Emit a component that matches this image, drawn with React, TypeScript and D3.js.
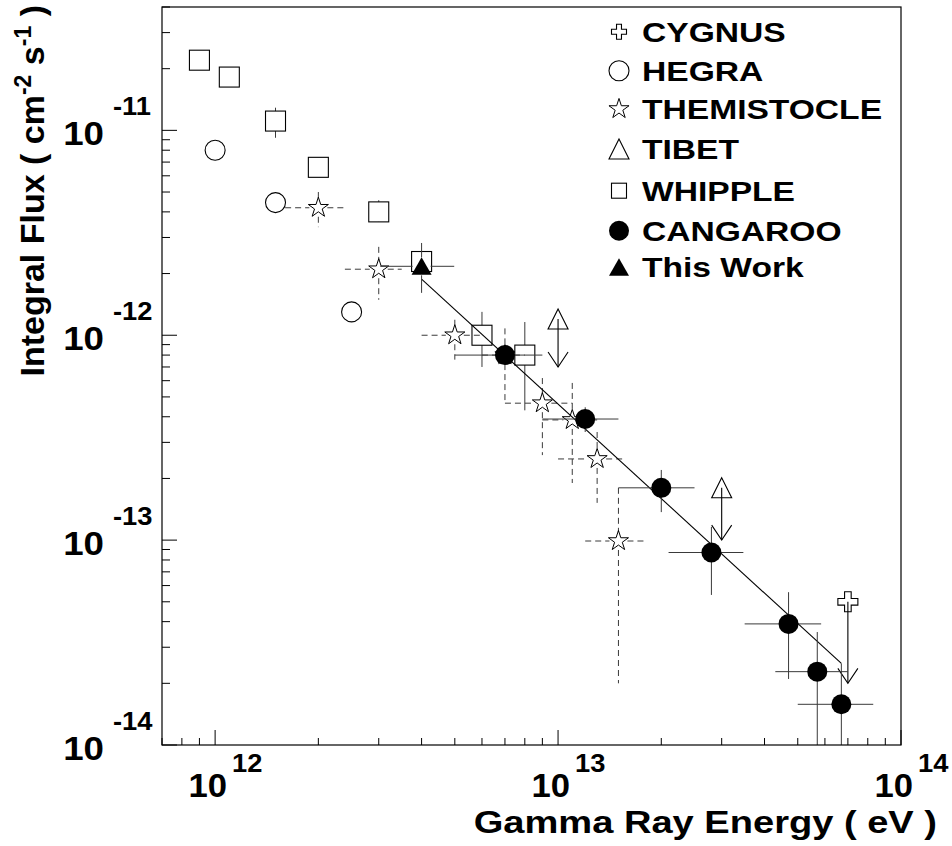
import React from "react";
import * as d3 from "d3";

// data (energy in eV, integral flux in cm^-2 s^-1)
const whippleE = [9e11, 1.1e12, 1.5e12, 2e12, 3e12, 4e12, 6e12, 8e12];
const whippleF = [2.2e-11, 1.82e-11, 1.11e-11, 6.6e-12, 4.0e-12, 2.29e-12, 1.0e-12, 8.0e-13];
const whippleFLo = [2.1e-11, 1.75e-11, 9.2e-12, 6.3e-12, 3.57e-12, 2.2e-12, 7.0e-13, 4.3e-13];
const whippleFHi = [2.3e-11, 1.9e-11, 1.29e-11, 6.9e-12, 4.56e-12, 2.4e-12, 1.3e-12, 1.16e-12];

const hegraE = [1e12, 1.5e12, 2.5e12];
const hegraF = [8.0e-12, 4.44e-12, 1.3e-12];

const themE = [2e12, 3e12, 5e12, 7e12, 9e12, 1.1e13, 1.3e13, 1.5e13];
const themF = [4.19e-12, 2.1e-12, 1.0e-12, 8.0e-13, 4.66e-13, 3.86e-13, 2.49e-13, 9.9e-14];
const themELo = [1.6e12, 2.39e12, 4e12, 6e12, 7e12, 9e12, 1.0e13, 1.2e13];
const themEHi = [2.39e12, 3.5e12, 6e12, 8e12, 1.1e13, 1.3e13, 1.54e13, 1.79e13];
const themFLo = [3.37e-12, 1.49e-12, 7.6e-13, 4.67e-13, 2.6e-13, 1.9e-13, 1.52e-13, 2.0e-14];
const themFHi = [5.0e-12, 2.7e-12, 1.19e-12, 1.08e-12, 6.18e-13, 5.85e-13, 3.37e-13, 1.8e-13];

const cangE = [7e12, 1.2e13, 2.0e13, 2.8e13, 4.7e13, 5.7e13, 6.7e13];
const cangF = [8.0e-13, 3.9e-13, 1.8e-13, 8.7e-14, 3.9e-14, 2.28e-14, 1.58e-14];
const cangELo = [5e12, 9e12, 1.5e13, 2.1e13, 3.5e13, 4.3e13, 5e13];
const cangEHi = [9e12, 1.5e13, 2.5e13, 3.47e13, 5.85e13, 7e13, 8.3e13];
const cangFLo = [7.3e-13, 3.37e-13, 1.37e-13, 5.4e-14, 2.1e-14, 5e-15, 5e-15];
const cangFHi = [8.8e-13, 4.45e-13, 2.2e-13, 1.16e-13, 5.57e-14, 3.56e-14, 2.5e-14];

const tibetE = [1e13, 3e13];
const tibetF = [1.2e-12, 1.8e-13];
const tibetTip = [7.0e-13, 1.0e-13];

const cygE = [7e13];
const cygF = [5e-14];
const cygTip = [2e-14];

const thisE = [4e12];
const thisF = [2.17e-12];
const thisELo = [3.03e12];
const thisEHi = [4.98e12];
const thisFLo = [1.61e-12];
const thisFHi = [2.82e-12];

const fitE = [4e12, 6.7e13];
const fitF = [1.88e-12, 2.5e-14];

const legendLabels = ["CYGNUS", "HEGRA", "THEMISTOCLE", "TIBET", "WHIPPLE", "CANGAROO", "This Work"];
const legendKinds = ["cross", "circle", "star", "triangle", "square", "dot", "filledTriangle"];

const xExponents = [12, 13, 14];
const yExponents = [-11, -12, -13, -14];

const W = 952;
const H = 846;
const font = "'Liberation Sans', Arial, Helvetica, sans-serif";

const x = d3.scaleLog().domain([7e11, 1e14]).range([162, 901]);
const y = d3.scaleLog().domain([1e-14, 4e-11]).range([745, 7]);

const starPath = d3.symbol(d3.symbolStar, 125)();

const crossPath = (s: number, a: number) =>
  `M${-a},${-s}H${a}V${-a}H${s}V${a}H${a}V${s}H${-a}V${a}H${-s}V${-a}H${-a}Z`;

function Marker({ kind, cx, cy, small }: { kind: string; cx: number; cy: number; small?: boolean }) {
  const t = `translate(${cx},${cy})`;
  if (kind === "square") {
    const h = small ? 7.5 : 10;
    return <rect x={cx - h} y={cy - h} width={2 * h} height={2 * h} fill="none" stroke="#000" strokeWidth={1.1} />;
  }
  if (kind === "circle") return <circle cx={cx} cy={cy} r={10} fill="none" stroke="#000" strokeWidth={1.1} />;
  if (kind === "dot") return <circle cx={cx} cy={cy} r={10} fill="#000" />;
  if (kind === "star") return <path d={starPath} transform={t} fill="none" stroke="#000" strokeWidth={1} />;
  if (kind === "triangle")
    return <path d="M0,-10L10,10L-10,10Z" transform={t} fill="none" stroke="#000" strokeWidth={1.1} />;
  if (kind === "filledTriangle")
    return <path d="M0,-9L10,8.5L-10,8.5Z" transform={t} fill="#000" />;
  if (kind === "cross") {
    const s = small ? 7.5 : 10;
    return <path d={crossPath(s, s * 0.33)} transform={t} fill="none" stroke="#000" strokeWidth={1.1} />;
  }
  return null;
}

// error bars drawn outside the marker, like ROOT does
function Bars({ cx, cy, xl, xh, yh, yl, gap }: any) {
  const segs: number[][] = [];
  if (xl !== undefined && xl < cx - gap) segs.push([xl, cy, cx - gap, cy]);
  if (xh !== undefined && xh > cx + gap) segs.push([cx + gap, cy, xh, cy]);
  if (yh !== undefined && yh < cy - gap) segs.push([cx, yh, cx, cy - gap]);
  if (yl !== undefined && yl > cy + gap) segs.push([cx, cy + gap, cx, yl]);
  return (
    <>
      {segs.map((s, i) => (
        <line key={i} x1={s[0]} y1={s[1]} x2={s[2]} y2={s[3]} />
      ))}
    </>
  );
}

function Arrow({ cx, y0, y1 }: { cx: number; y0: number; y1: number }) {
  return (
    <g stroke="#000" strokeWidth={1.1} fill="none">
      <line x1={cx} x2={cx} y1={y0} y2={y1} />
      <path d={`M${cx - 10},${y1 - 15}L${cx},${y1}L${cx + 10},${y1 - 15}`} />
    </g>
  );
}

function SText({ tx, ty, sx = 1, anchor = "start", size, children }: any) {
  return (
    <text
      transform={`translate(${tx},${ty}) scale(${sx},1)`}
      textAnchor={anchor}
      fontSize={size}
      fontFamily={font}
      fontWeight="bold"
      fill="#000"
    >
      {children}
    </text>
  );
}

export default function App() {
  const [x0, x1] = x.range();
  const [y0, y1] = y.range();
  const minorX = x.ticks().filter((v) => Math.abs(Math.log10(v) - Math.round(Math.log10(v))) > 1e-6);
  const minorY = y.ticks().filter((v) => Math.abs(Math.log10(v) - Math.round(Math.log10(v))) > 1e-6);
  const barColor = "#3a3a3a";

  return (
    <svg width={W} height={H} style={{ position: "absolute", left: 0, top: 0, background: "#fff" }}>
      <defs>
        <clipPath id="plot">
          <rect x={x0} y={y1} width={x1 - x0} height={y0 - y1} />
        </clipPath>
      </defs>
      <rect width={W} height={H} fill="#fff" />

      <g clipPath="url(#plot)">
        {/* THEMISTOCLE */}
        <g stroke={barColor} strokeWidth={1} strokeDasharray="6,4">
          {themE.map((e, i) => (
            <Bars
              key={i}
              cx={x(e)}
              cy={y(themF[i])}
              xl={x(themELo[i])}
              xh={x(themEHi[i])}
              yh={y(themFHi[i])}
              yl={y(themFLo[i])}
              gap={9}
            />
          ))}
        </g>
        {themE.map((e, i) => (
          <Marker key={i} kind="star" cx={x(e)} cy={y(themF[i])} />
        ))}

        {/* HEGRA */}
        {hegraE.map((e, i) => (
          <Marker key={i} kind="circle" cx={x(e)} cy={y(hegraF[i])} />
        ))}

        {/* WHIPPLE */}
        <g stroke={barColor} strokeWidth={1}>
          {whippleE.map((e, i) => (
            <Bars key={i} cx={x(e)} cy={y(whippleF[i])} yh={y(whippleFHi[i])} yl={y(whippleFLo[i])} gap={10} />
          ))}
        </g>
        {whippleE.map((e, i) => (
          <Marker key={i} kind="square" cx={x(e)} cy={y(whippleF[i])} />
        ))}

        {/* fit */}
        <line
          x1={x(fitE[0])}
          y1={y(fitF[0])}
          x2={x(fitE[1])}
          y2={y(fitF[1])}
          stroke="#000"
          strokeWidth={1.1}
        />

        {/* TIBET upper limits */}
        {tibetE.map((e, i) => (
          <g key={i}>
            <Arrow cx={x(e)} y0={y(tibetF[i])} y1={y(tibetTip[i])} />
            <Marker kind="triangle" cx={x(e)} cy={y(tibetF[i])} />
          </g>
        ))}

        {/* CYGNUS upper limit */}
        {cygE.map((e, i) => (
          <g key={i}>
            <Arrow cx={x(e)} y0={y(cygF[i])} y1={y(cygTip[i])} />
            <Marker kind="cross" cx={x(e)} cy={y(cygF[i])} />
          </g>
        ))}

        {/* CANGAROO */}
        <g stroke={barColor} strokeWidth={1}>
          {cangE.map((e, i) => (
            <Bars
              key={i}
              cx={x(e)}
              cy={y(cangF[i])}
              xl={x(cangELo[i])}
              xh={x(cangEHi[i])}
              yh={y(cangFHi[i])}
              yl={y(cangFLo[i])}
              gap={0}
            />
          ))}
        </g>
        {cangE.map((e, i) => (
          <Marker key={i} kind="dot" cx={x(e)} cy={y(cangF[i])} />
        ))}

        {/* This Work */}
        <g stroke={barColor} strokeWidth={1}>
          {thisE.map((e, i) => (
            <Bars
              key={i}
              cx={x(e)}
              cy={y(thisF[i])}
              xl={x(thisELo[i])}
              xh={x(thisEHi[i])}
              yh={y(thisFHi[i])}
              yl={y(thisFLo[i])}
              gap={9}
            />
          ))}
        </g>
        {thisE.map((e, i) => (
          <Marker key={i} kind="filledTriangle" cx={x(e)} cy={y(thisF[i])} />
        ))}
      </g>

      {/* frame and axes */}
      <rect x={x0} y={y1} width={x1 - x0} height={y0 - y1} fill="none" stroke="#000" strokeWidth={1.2} />
      <g stroke="#000" strokeWidth={1}>
        {xExponents.map((p) => (
          <line key={p} x1={x(10 ** p)} x2={x(10 ** p)} y1={y0} y2={y0 - 15} />
        ))}
        {minorX.map((v, i) => (
          <line key={i} x1={x(v)} x2={x(v)} y1={y0} y2={y0 - 7} />
        ))}
        {yExponents.map((p) => (
          <line key={p} x1={x0} x2={x0 + 15} y1={y(10 ** p)} y2={y(10 ** p)} />
        ))}
        {minorY.map((v, i) => (
          <line key={i} x1={x0} x2={x0 + 8} y1={y(v)} y2={y(v)} />
        ))}
      </g>

      {/* tick labels */}
      {xExponents.map((p) => (
        <g key={p}>
          <SText tx={x(10 ** p) + 12} ty={797} sx={1.05} anchor="end" size={33}>10</SText>
          <SText tx={x(10 ** p) + 17} ty={772} sx={1.05} size={26}>{p}</SText>
        </g>
      ))}
      {yExponents.map((p) => (
        <g key={p}>
          <SText tx={104} ty={y(10 ** p) + 15} sx={1.08} anchor="end" size={34}>10</SText>
          <SText tx={113} ty={y(10 ** p) - 15} sx={1.05} size={26}>{p}</SText>
        </g>
      ))}

      {/* axis titles */}
      <SText tx={937} ty={833} sx={1.19} anchor="end" size={32}>Gamma Ray Energy ( eV )</SText>
      <text
        transform="translate(44,5) rotate(-90)"
        textAnchor="end"
        fontSize={34}
        fontFamily={font}
        fontWeight="bold"
      >
        Integral Flux ( cm
        <tspan fontSize={23} dy={-13}>-2</tspan>
        <tspan dy={13}> s</tspan>
        <tspan fontSize={23} dy={-13}>-1</tspan>
        <tspan dy={13}> )</tspan>
      </text>

      {/* legend */}
      {legendLabels.map((lab, i) => {
        const ly = [31.7, 70.7, 109, 149, 190.7, 230.7, 267.3][i];
        return (
          <g key={lab}>
            <Marker kind={legendKinds[i]} cx={619} cy={ly} small />
            <SText tx={642} ty={ly + 10} sx={1.2} size={28}>{lab}</SText>
          </g>
        );
      })}
    </svg>
  );
}
